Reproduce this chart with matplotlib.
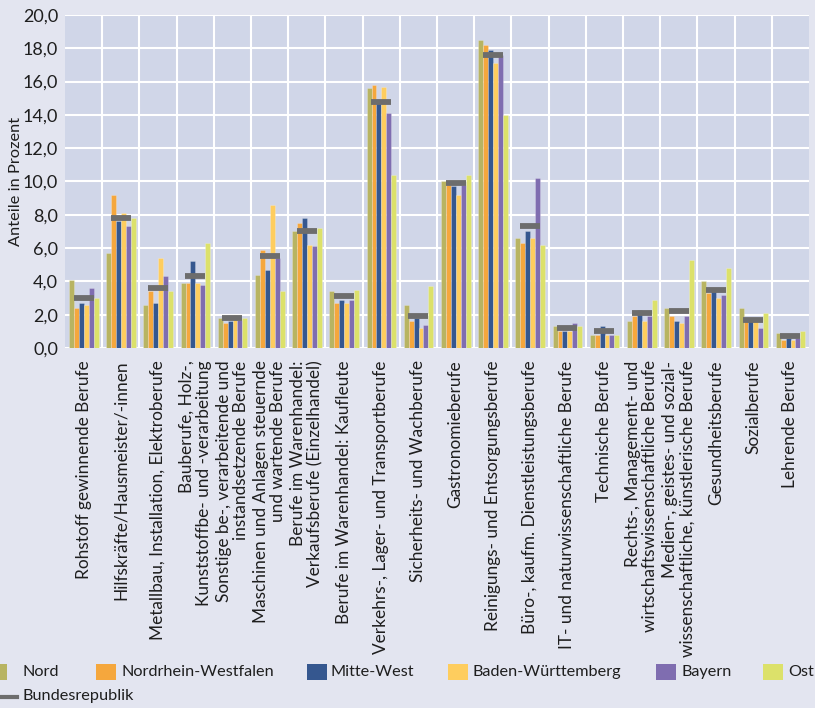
import matplotlib
matplotlib.use("Agg")
import matplotlib.pyplot as plt
import numpy as np
from matplotlib.patches import Rectangle
from matplotlib.lines import Line2D
from matplotlib.ticker import FuncFormatter, MultipleLocator, FixedLocator

plt.rcParams['font.family'] = ['Lato', 'DejaVu Sans']

categories = [
    "Rohstoff gewinnende Berufe",
    "Hilfskräfte/Hausmeister/-innen",
    "Metallbau, Installation, Elektroberufe",
    "Bauberufe, Holz-,\nKunststoffbe- und -verarbeitung",
    "Sonstige be-, verarbeitende und\ninstandsetzende Berufe",
    "Maschinen und Anlagen steuernde\nund wartende Berufe",
    "Berufe im Warenhandel:\nVerkaufsberufe (Einzelhandel)",
    "Berufe im Warenhandel: Kaufleute",
    "Verkehrs-, Lager- und Transportberufe",
    "Sicherheits- und Wachberufe",
    "Gastronomieberufe",
    "Reinigungs- und Entsorgungsberufe",
    "Büro-, kaufm. Dienstleistungsberufe",
    "IT- und naturwissenschaftliche Berufe",
    "Technische Berufe",
    "Rechts-, Management- und\nwirtschaftswissenschaftliche Berufe",
    "Medien-, geistes- und sozial-\nwissenschaftliche, künstlerische Berufe",
    "Gesundheitsberufe",
    "Sozialberufe",
    "Lehrende Berufe",
]

series_names = ["Nord", "Nordrhein-Westfalen", "Mitte-West", "Baden-Württemberg", "Bayern", "Ost"]
nord   = [4.1, 5.7, 2.6, 3.9, 1.8, 4.4, 7.0, 3.4, 15.6, 2.6, 10.0, 18.5, 6.6, 1.3, 0.8, 1.6, 2.4, 4.0, 2.4, 0.9]
nrw    = [2.4, 9.2, 3.4, 3.9, 1.5, 5.9, 7.5, 2.7, 15.8, 1.6, 9.8, 18.2, 6.3, 1.0, 0.8, 1.9, 1.9, 3.3, 1.6, 0.5]
mitte  = [2.7, 7.6, 2.7, 5.2, 1.6, 4.7, 7.8, 2.9, 14.7, 1.8, 9.7, 17.9, 7.0, 1.0, 1.3, 2.3, 1.6, 3.4, 1.6, 0.6]
bw     = [2.6, 8.1, 5.4, 3.9, 2.0, 8.6, 6.2, 2.7, 15.7, 1.2, 9.2, 17.1, 6.6, 1.0, 0.8, 1.6, 1.5, 3.0, 1.6, 0.5]
bayern = [3.6, 7.3, 4.3, 3.8, 1.7, 5.4, 6.1, 2.9, 14.1, 1.4, 9.8, 17.6, 10.2, 1.5, 0.8, 1.9, 1.9, 3.2, 1.2, 0.6]
ost    = [3.0, 7.8, 3.4, 6.3, 1.8, 3.4, 7.2, 3.5, 10.4, 3.7, 10.4, 14.0, 6.2, 1.3, 0.8, 2.9, 5.3, 4.8, 2.1, 1.0]
bund_name = "Bundesrepublik"
bund   = [3.0, 7.8, 3.6, 4.3, 1.8, 5.5, 7.0, 3.1, 14.8, 1.9, 9.9, 17.6, 7.3, 1.2, 1.0, 2.1, 2.2, 3.5, 1.7, 0.7]

colors = ["#b8b462", "#f5a73d", "#35578f", "#fecd5e", "#7f6db0", "#dce16a"]
bund_color = "#6d6d6d"
fig_bg = "#e3e5f0"
ax_bg = "#d0d6e8"
text_color = "#1e1e1e"

W, H = 815, 708
fig = plt.figure(figsize=(W / 100, H / 100), dpi=100, facecolor=fig_bg)
left, right, top, bottom = 65, 809, 15, 348
ax = fig.add_axes([left / W, 1 - bottom / H, (right - left) / W, (bottom - top) / H])
ax.set_facecolor(ax_bg)

x = np.arange(len(categories))
all_series = [nord, nrw, mitte, bw, bayern, ost]
bw_ = 0.132
for i, (vals, c) in enumerate(zip(all_series, colors)):
    ax.bar(x + (i - 2.5) * bw_ + 0.005, vals, width=bw_, color=c,
           edgecolor=(1, 1, 1, 0.25), linewidth=0.6, zorder=2)

ax.hlines(bund, x - 0.27, x + 0.27, colors=bund_color, linewidth=4.2, zorder=3)

ax.set_xlim(-0.5, len(categories) - 0.5)
ax.set_ylim(0, 20)
ax.yaxis.set_major_locator(MultipleLocator(2))
ax.yaxis.set_major_formatter(FuncFormatter(lambda v, p: f"{v:.1f}".replace(".", ",")))
ax.set_xticks(x)
ax.set_xticklabels(categories, rotation=90, ha="center", va="top",
                   multialignment="right", fontsize=12.4, color=text_color, linespacing=1.12)
ax.xaxis.set_minor_locator(FixedLocator(x[:-1] + 0.5))
ax.tick_params(axis="x", which="both", length=0, pad=9)
ax.tick_params(axis="y", length=0, pad=5, labelsize=13, labelcolor=text_color)
ax.grid(axis="y", which="major", color="white", linewidth=1.5, zorder=0)
ax.grid(axis="x", which="minor", color="white", linewidth=1.5, zorder=0)
ax.grid(axis="x", which="major", visible=False)
ax.set_axisbelow(True)
for s in ax.spines.values():
    s.set_visible(False)

fig.text(16 / W, 1 - 181 / H, "Anteile in Prozent", fontsize=11.8, color=text_color,
         rotation=90, ha="center", va="center")

# legend (manual layout)
def fx(px):
    return px / W

def fy(py):
    return 1 - py / H

entries = [(-13, 22.7), (96, 121.7), (307, 331), (448, 473), (656, 681.7), (763, 788)]
for (px, tx), name, c in zip(entries, series_names, colors):
    fig.patches.append(Rectangle((fx(px), fy(680)), 20 / W, 16 / H, transform=fig.transFigure,
                                 facecolor=c, edgecolor="none"))
    fig.text(fx(tx), fy(672), name, fontsize=11.7, color=text_color, va="center", ha="left")
fig.add_artist(Line2D([fx(0), fx(16.7)], [fy(696.7), fy(696.7)], transform=fig.transFigure,
                      color=bund_color, linewidth=3))
fig.text(fx(22.7), fy(696), bund_name, fontsize=11.7, color=text_color, va="center", ha="left")

fig.savefig("out.png", dpi=100, facecolor=fig_bg)
